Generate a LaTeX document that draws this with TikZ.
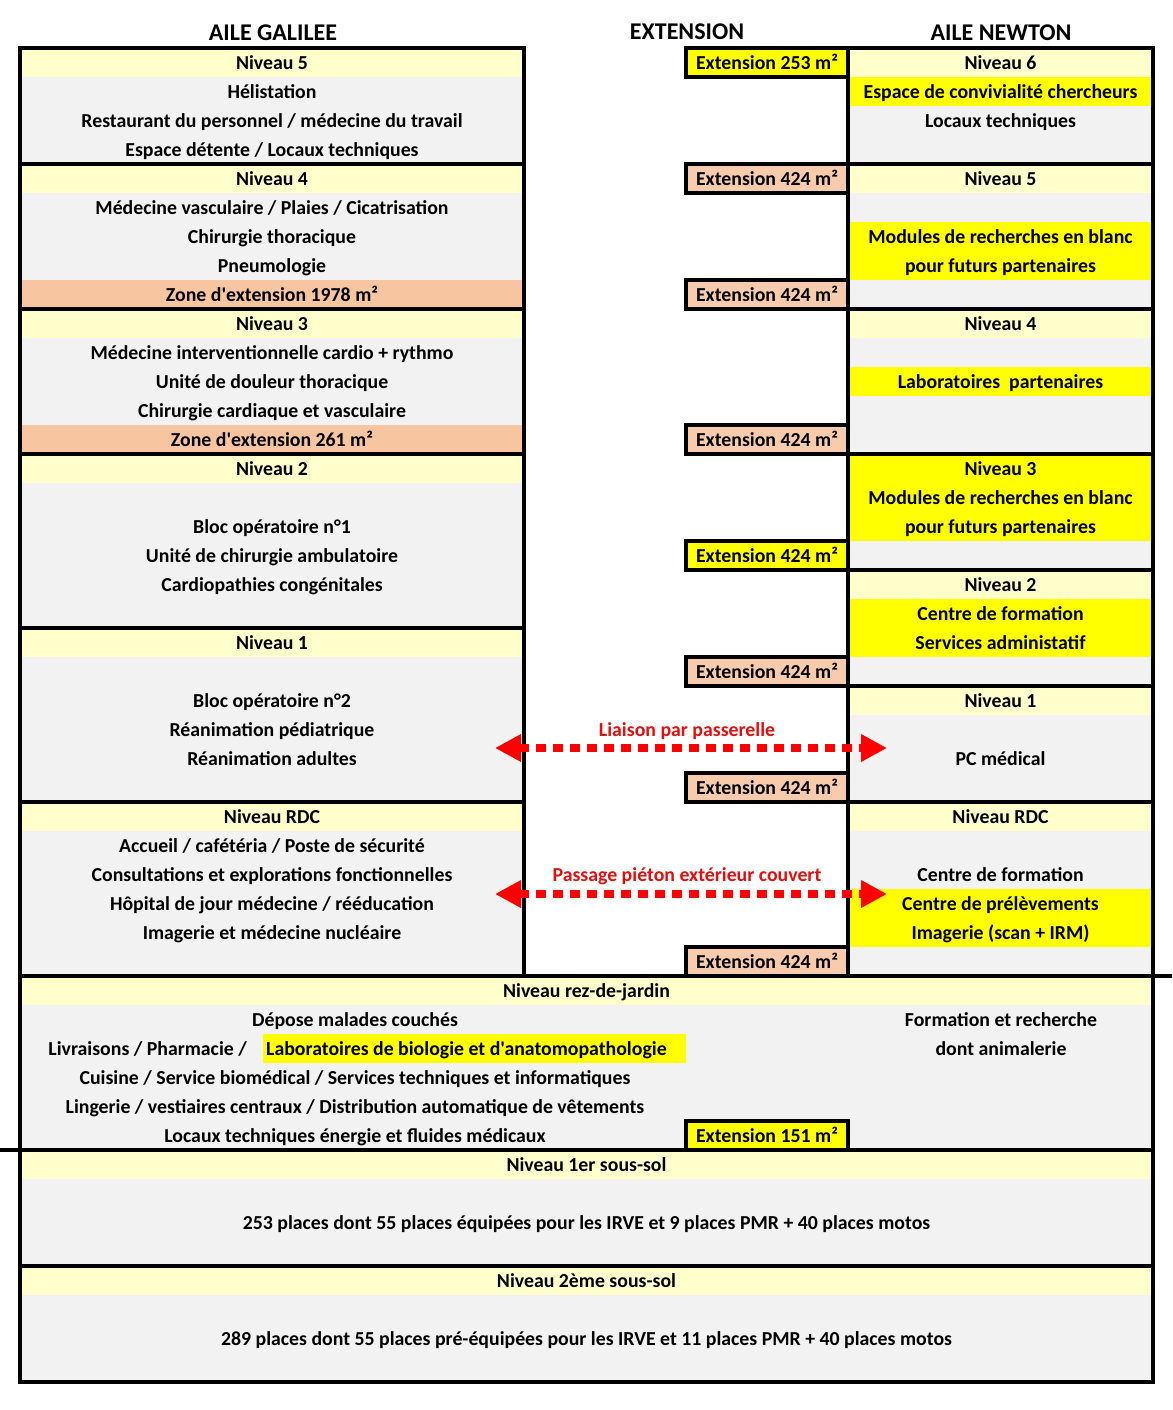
\documentclass[tikz,border=0pt]{standalone}
\usepackage{fontspec}
\setmainfont{Carlito}[Ligatures=TeXOff]
\usetikzlibrary{arrows.meta}
\definecolor{jclair}{HTML}{FFFFCC}
\definecolor{gris}{HTML}{F2F2F2}
\definecolor{zone}{HTML}{F7C59F}
\definecolor{extor}{HTML}{F8CBAD}
\definecolor{jvif}{HTML}{FFFF00}
\definecolor{rougeA}{HTML}{FF0000}
\definecolor{rougeT}{HTML}{E01010}
\newcommand\RY[1]{62.5+29*#1}
\newcommand\RT[1]{48+29*#1}
\newcommand\txtfont{\fontsize{19.8}{22}\selectfont\bfseries}
\begin{document}
\begin{tikzpicture}[x=1pt,y=-1pt,
  lab/.style={inner sep=0pt, font=\txtfont, text=black, text height=14.5pt, text depth=0.5pt},
  colhead/.style={inner sep=0pt, font=\fontsize{24}{28}\selectfont\bfseries, text height=16pt, text depth=1pt},
  extbox/.style={draw=black, line width=3.5pt, minimum width=162pt, minimum height=29pt, inner sep=0pt, font=\txtfont, text height=14.5pt, text depth=0.5pt},
  border/.style={draw=black, line width=3.5pt},
  passage/.style={draw=rougeA, line width=8pt, dash pattern=on 9.5pt off 7.5pt, {Triangle[length=26pt,width=26pt]}-{Triangle[length=26pt,width=26pt]}},
  redlab/.style={inner sep=0pt, font=\txtfont, text=rougeT, text height=14.5pt, text depth=0.5pt}]
\useasboundingbox (0,0) rectangle (1172,1410);
\fill[white] (0,0) rectangle (1172,1410);

% ---------- backgrounds ----------
\fill[gris] (20,48) rectangle (524,976);
\fill[gris] (848,48) rectangle (1153,976);
\fill[gris] (20,976) rectangle (1153,1382);
\foreach \r in {0,4,9,14,20,26}
  \fill[jclair] (20,{\RT{\r}}) rectangle (524,{\RT{\r}+29});
\foreach \r in {8,13}
  \fill[zone] (20,{\RT{\r}}) rectangle (524,{\RT{\r}+29});
\foreach \r in {0,4,9,18,22,26}
  \fill[jclair] (848,{\RT{\r}}) rectangle (1153,{\RT{\r}+29});
\foreach \r in {1,6,7,11,14,15,16,19,20,29,30}
  \fill[jvif] (848,{\RT{\r}}) rectangle (1153,{\RT{\r}+29});
\foreach \r in {32,38,42}
  \fill[jclair] (20,{\RT{\r}}) rectangle (1153,{\RT{\r}+29});
\fill[jvif] (263,{\RT{34}}) rectangle (686,{\RT{34}+29});

% ---------- borders ----------
\draw[border] (20,48) rectangle (524,976);
\foreach \r in {4,9,14,20,26}
  \draw[border] (20,{\RT{\r}}) -- (524,{\RT{\r}});
\draw[border] (848,48) rectangle (1153,976);
\foreach \r in {4,9,14,18,22,26}
  \draw[border] (848,{\RT{\r}}) -- (1153,{\RT{\r}});
\draw[border] (20,976) rectangle (1153,1382);
\draw[border] (20,1150) -- (1153,1150);
\draw[border] (20,1266) -- (1153,1266);
\draw[border] (1153,976) -- (1172,976);
\draw[border] (0,1150) -- (20,1150);

% ---------- column headers ----------
\node[colhead] (hgal) at (273,33) {AILE GALILEE};
\node[colhead] (hext) at (687,32) {EXTENSION};
\node[colhead] (hnew) at (1001,33) {AILE NEWTON};

% ---------- aile Galilee ----------
\node[lab] (g0)  at (272,{\RY{0}})  {Niveau 5};
\node[lab] (g1)  at (272,{\RY{1}})  {Hélistation};
\node[lab] (g2)  at (272,{\RY{2}})  {Restaurant du personnel / médecine du travail};
\node[lab] (g3)  at (272,{\RY{3}})  {Espace détente / Locaux techniques};
\node[lab] (g4)  at (272,{\RY{4}})  {Niveau 4};
\node[lab] (g5)  at (272,{\RY{5}})  {Médecine vasculaire / Plaies / Cicatrisation};
\node[lab] (g6)  at (272,{\RY{6}})  {Chirurgie thoracique};
\node[lab] (g7)  at (272,{\RY{7}})  {Pneumologie};
\node[lab] (g8)  at (272,{\RY{8}})  {Zone d'extension 1978 m²};
\node[lab] (g9)  at (272,{\RY{9}})  {Niveau 3};
\node[lab] (g10) at (272,{\RY{10}}) {Médecine interventionnelle cardio + rythmo};
\node[lab] (g11) at (272,{\RY{11}}) {Unité de douleur thoracique};
\node[lab] (g12) at (272,{\RY{12}}) {Chirurgie cardiaque et vasculaire};
\node[lab] (g13) at (272,{\RY{13}}) {Zone d'extension 261 m²};
\node[lab] (g14) at (272,{\RY{14}}) {Niveau 2};
\node[lab] (g16) at (272,{\RY{16}}) {Bloc opératoire n°1};
\node[lab] (g17) at (272,{\RY{17}}) {Unité de chirurgie ambulatoire};
\node[lab] (g18) at (272,{\RY{18}}) {Cardiopathies congénitales};
\node[lab] (g20) at (272,{\RY{20}}) {Niveau 1};
\node[lab] (g22) at (272,{\RY{22}}) {Bloc opératoire n°2};
\node[lab] (g23) at (272,{\RY{23}}) {Réanimation pédiatrique};
\node[lab] (g24) at (272,{\RY{24}}) {Réanimation adultes};
\node[lab] (g26) at (272,{\RY{26}}) {Niveau RDC};
\node[lab] (g27) at (272,{\RY{27}}) {Accueil / cafétéria / Poste de sécurité};
\node[lab] (g28) at (272,{\RY{28}}) {Consultations et explorations fonctionnelles};
\node[lab] (g29) at (272,{\RY{29}}) {Hôpital de jour médecine / rééducation};
\node[lab] (g30) at (272,{\RY{30}}) {Imagerie et médecine nucléaire};

% ---------- aile Newton ----------
\node[lab] (n0)  at (1000.5,{\RY{0}})  {Niveau 6};
\node[lab] (n1)  at (1000.5,{\RY{1}})  {Espace de convivialité chercheurs};
\node[lab] (n2)  at (1000.5,{\RY{2}})  {Locaux techniques};
\node[lab] (n4)  at (1000.5,{\RY{4}})  {Niveau 5};
\node[lab] (n6)  at (1000.5,{\RY{6}})  {Modules de recherches en blanc};
\node[lab] (n7)  at (1000.5,{\RY{7}})  {pour futurs partenaires};
\node[lab] (n9)  at (1000.5,{\RY{9}})  {Niveau 4};
\node[lab] (n11) at (1000.5,{\RY{11}}) {Laboratoires\ \ partenaires};
\node[lab] (n14) at (1000.5,{\RY{14}}) {Niveau 3};
\node[lab] (n15) at (1000.5,{\RY{15}}) {Modules de recherches en blanc};
\node[lab] (n16) at (1000.5,{\RY{16}}) {pour futurs partenaires};
\node[lab] (n18) at (1000.5,{\RY{18}}) {Niveau 2};
\node[lab] (n19) at (1000.5,{\RY{19}}) {Centre de formation};
\node[lab] (n20) at (1000.5,{\RY{20}}) {Services administatif};
\node[lab] (n22) at (1000.5,{\RY{22}}) {Niveau 1};
\node[lab] (n24) at (1000.5,{\RY{24}}) {PC médical};
\node[lab] (n26) at (1000.5,{\RY{26}}) {Niveau RDC};
\node[lab] (n28) at (1000.5,{\RY{28}}) {Centre de formation};
\node[lab] (n29) at (1000.5,{\RY{29}}) {Centre de prélèvements};
\node[lab] (n30) at (1000.5,{\RY{30}}) {Imagerie (scan + IRM)};

% ---------- extension boxes ----------
\node[extbox, fill=jvif]  (e0)  at (767,{\RY{0}})  {Extension 253 m²};
\node[extbox, fill=extor] (e4)  at (767,{\RY{4}})  {Extension 424 m²};
\node[extbox, fill=extor] (e8)  at (767,{\RY{8}})  {Extension 424 m²};
\node[extbox, fill=extor] (e13) at (767,{\RY{13}}) {Extension 424 m²};
\node[extbox, fill=jvif]  (e17) at (767,{\RY{17}}) {Extension 424 m²};
\node[extbox, fill=extor] (e21) at (767,{\RY{21}}) {Extension 424 m²};
\node[extbox, fill=extor] (e25) at (767,{\RY{25}}) {Extension 424 m²};
\node[extbox, fill=extor] (e31) at (767,{\RY{31}}) {Extension 424 m²};
\node[extbox, fill=jvif]  (e37) at (767,{\RY{37}}) {Extension 151 m²};

% ---------- rez-de-jardin and sous-sols ----------
\node[lab] (b32) at (586.5,{\RY{32}}) {Niveau rez-de-jardin};
\node[lab] (b33) at (355,{\RY{33}}) {Dépose malades couchés};
\node[lab, anchor=east] (b34a) at (247,{\RY{34}}) {Livraisons / Pharmacie /};
\node[lab, anchor=west] (b34b) at (266,{\RY{34}}) {Laboratoires de biologie et d'anatomopathologie};
\node[lab] (b35) at (355,{\RY{35}}) {Cuisine / Service biomédical / Services techniques et informatiques};
\node[lab] (b36) at (355,{\RY{36}}) {Lingerie / vestiaires centraux / Distribution automatique de vêtements};
\node[lab] (b37) at (355,{\RY{37}}) {Locaux techniques énergie et fluides médicaux};
\node[lab] (r33) at (1001,{\RY{33}}) {Formation et recherche};
\node[lab] (r34) at (1001,{\RY{34}}) {dont animalerie};
\node[lab] (b38) at (586.5,{\RY{38}}) {Niveau 1er sous-sol};
\node[lab] (b40) at (586.5,{\RY{40}}) {253 places dont 55 places équipées pour les IRVE et 9 places PMR + 40 places motos};
\node[lab] (b42) at (586.5,{\RY{42}}) {Niveau 2ème sous-sol};
\node[lab] (b44) at (586.5,{\RY{44}}) {289 places dont 55 places pré-équipées pour les IRVE et 11 places PMR + 40 places motos};

% ---------- liaisons ----------
\node[redlab] (lpass) at (687,{\RY{23}}) {Liaison par passerelle};
\node[redlab] (lpiet) at (687,{\RY{28}}) {Passage piéton extérieur couvert};
\coordinate (a1L) at (495,748);
\coordinate (a1R) at (887,748);
\coordinate (a2L) at (495,894);
\coordinate (a2R) at (887,894);
\draw[passage] (a1L) -- (a1R);
\draw[passage] (a2L) -- (a2R);
\end{tikzpicture}
\end{document}
